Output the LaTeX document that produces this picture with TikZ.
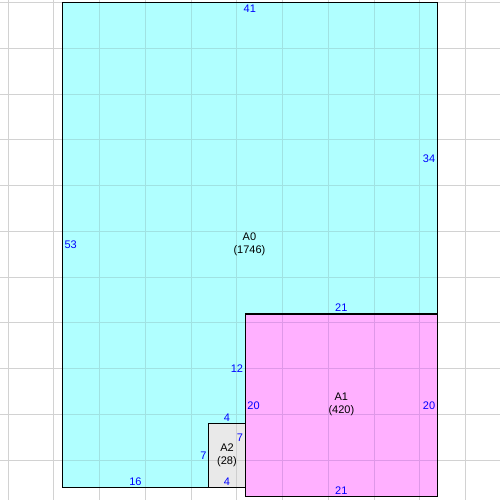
\documentclass[tikz,border=0pt]{standalone}
\usepackage{fontspec}
\setmainfont{Liberation Sans}
\definecolor{roomcyan}{RGB}{176,255,255}
\definecolor{roompink}{RGB}{255,176,255}
\definecolor{roomgray}{RGB}{233,233,233}
\definecolor{gridwhite}{RGB}{210,210,210}
\definecolor{gridcyan}{RGB}{160,226,226}
\definecolor{gridpink}{RGB}{222,152,232}
\definecolor{gridgray}{RGB}{206,206,206}
\newcommand{\roomgrid}[1]{%
  \foreach \i in {0,...,10} {
    \draw[#1,line width=1pt] ({-5.93+5*\i},-1.34) -- ({-5.93+5*\i},53.3);
    \draw[#1,line width=1pt] (-6.81,{53-5*\i}) -- (47.84,{53-5*\i});
  }}

\begin{document}
\begin{tikzpicture}[x=9.15pt,y=9.15pt,
  side/.style={text=blue,font=\fontsize{11}{13}\selectfont,inner sep=2pt},
  room/.style={font=\fontsize{11}{13}\selectfont,align=center,inner sep=0pt}]
  \useasboundingbox (-6.81,-1.34) rectangle (47.84,53.30);

  % grid on white
  \roomgrid{gridwhite}

  % rooms, each with its own tinted grid
  \begin{scope}
    \path[clip] (0,0) -- (0,53) -- (41,53) -- (41,19) -- (20,19) -- (20,7) -- (16,7) -- (16,0) -- cycle;
    \fill[roomcyan] (0,0) rectangle (41,53);
    \roomgrid{gridcyan}
  \end{scope}
  \begin{scope}
    \path[clip] (20,-1) rectangle (41,19);
    \fill[roompink] (20,-1) rectangle (41,19);
    \roomgrid{gridpink}
  \end{scope}
  \begin{scope}
    \path[clip] (16,0) rectangle (20,7);
    \fill[roomgray] (16,0) rectangle (20,7);
    \roomgrid{gridgray}
  \end{scope}

  % outlines
  \draw[line width=1.4pt] (0,0) -- (0,53) -- (41,53) -- (41,19) -- (20,19) -- (20,7) -- (16,7) -- (16,0) -- cycle;
  \draw[line width=1.4pt] (20,-1) rectangle (41,19);
  \draw[line width=1.4pt] (16,0) rectangle (20,7);

  % sides of A0
  \node[side,anchor=north] (a0top) at (20.5,53) {41};
  \node[side,anchor=east] (a0right) at (41,36) {34};
  \node[side,anchor=west] (a0left) at (0,26.5) {53};
  \node[side,anchor=south] (a0step) at (30.5,19) {21};
  \node[side,anchor=east] (a0inner) at (20,13) {12};
  \node[side,anchor=south] (a0notch) at (18,7) {4};
  \node[side,anchor=east] (a0drop) at (16,3.5) {7};
  \node[side,anchor=south] (a0bottom) at (8,0) {16};

  % sides of A1
  \node[side,anchor=west] (a1left) at (20,9) {20};
  \node[side,anchor=east] (a1right) at (41,9) {20};
  \node[side,anchor=south] (a1bottom) at (30.5,-1) {21};

  % sides of A2
  \node[side,anchor=east] (a2right) at (20,5.43) {7};
  \node[side,anchor=south] (a2bottom) at (18,0) {4};

  % room names
  \node[room] (A0) at (20.45,26.6) {A0\\(1746)};
  \node[room] (A1) at (30.5,9.1) {A1\\(420)};
  \node[room] (A2) at (18,3.55) {A2\\(28)};
\end{tikzpicture}
\end{document}
